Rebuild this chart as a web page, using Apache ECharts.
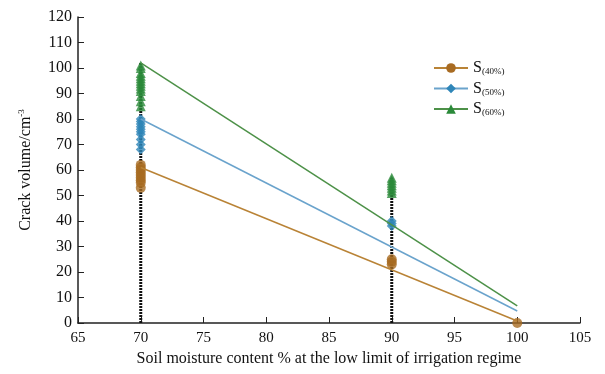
<!DOCTYPE html>
<html>
<head>
<meta charset="utf-8">
<script src="https://cdn.jsdelivr.net/npm/echarts@6/dist/echarts.min.js"></script>
<style>
  html, body { margin: 0; padding: 0; background: #fff; }
  #chart { width: 605px; height: 374px; }
</style>
</head>
<body>
<div id="chart"></div>
<script>
// scatter readings at each irrigation limit
const xs40 = [70, 70, 70, 70, 70, 70, 70, 70, 70, 90, 90, 90, 100]
const ys40 = [53, 55, 56, 57, 58, 59, 60, 61, 62, 23, 24, 25, 0]
const xs50 = [70, 70, 70, 70, 70, 70, 70, 70, 70, 70, 90, 90, 90]
const ys50 = [68, 70, 72, 74, 75, 76, 77, 78, 79, 80, 38, 39, 40]
const xs60 = [70, 70, 70, 70, 70, 70, 70, 70, 70, 70, 70, 70, 70, 90, 90, 90, 90, 90, 90, 90]
const ys60 = [85, 87, 89, 91, 92, 93, 94, 95, 96, 97, 98, 100, 101, 51, 52, 53, 54, 55, 56, 57]

// fitted lines (start / end)
const fitX = [70, 100]
const fit40 = [61, 0.8]
const fit50 = [80, 4.7]
const fit60 = [102, 6.7]

// vertical range bars
const barX = [70, 90]
const barTop = [102, 57]

const names = ['40%', '50%', '60%']
const colors = ['#a86b22', '#2f86b8', '#2b8a3a']
const lineColors = ['#b98336', '#6aa3cc', '#4d9148']
const symbols = ['circle', 'diamond', 'triangle']

const zip = (a, b) => a.map((v, i) => [v, b[i]])
const pts = [zip(xs40, ys40), zip(xs50, ys50), zip(xs60, ys60)]
const fits = [fit40, fit50, fit60]

const font = 'Liberation Serif'
const series = []

barX.forEach((x, i) => {
  series.push({
    type: 'line',
    name: 'range' + i,
    data: [[x, 0], [x, barTop[i]]],
    symbol: 'none',
    silent: true,
    z: 1,
    lineStyle: { color: '#111', width: 3, type: [2, 1] }
  })
})

names.forEach((n, i) => {
  series.push({
    type: 'line',
    name: n,
    data: zip(fitX, fits[i]),
    symbol: symbols[i],
    symbolSize: 10,
    showSymbol: false,
    itemStyle: { color: colors[i] },
    lineStyle: { color: lineColors[i], width: 1.5 },
    z: 3
  })
  series.push({
    type: 'scatter',
    name: n,
    data: pts[i],
    symbol: symbols[i],
    symbolSize: 10,
    itemStyle: { color: colors[i] },
    z: 2
  })
})

const option = {
  animation: false,
  textStyle: { fontFamily: font },
  grid: { left: 78, right: 25, top: 17, bottom: 51 },
  legend: {
    data: names,
    orient: 'vertical',
    left: 428,
    top: 55,
    itemWidth: 34,
    itemHeight: 12,
    itemGap: 4,
    formatter: n => '{s|S}{sub|(' + n + ')}',
    textStyle: {
      rich: {
        s: { fontFamily: font, fontSize: 16, color: '#111' },
        sub: { fontFamily: font, fontSize: 9, color: '#111', padding: [8, 0, 0, 0] }
      }
    }
  },
  xAxis: {
    type: 'value',
    min: 65, max: 105, interval: 5,
    name: 'Soil moisture content % at the low limit of irrigation regime',
    nameLocation: 'middle',
    nameGap: 26,
    nameTextStyle: { fontFamily: font, fontSize: 16, color: '#111' },
    axisLine: { lineStyle: { color: '#222', width: 1.5 } },
    axisTick: { inside: true, length: 6, lineStyle: { color: '#222' } },
    axisLabel: { fontFamily: font, fontSize: 15, color: '#111', margin: 8 },
    splitLine: { show: false }
  },
  yAxis: {
    type: 'value',
    min: 0, max: 120, interval: 10,
    name: 'Crack volume/cm{sup|-3}',
    nameLocation: 'middle',
    nameGap: 44,
    nameTextStyle: {
      fontFamily: font, fontSize: 16, color: '#111',
      rich: { sup: { fontFamily: font, fontSize: 9, color: '#111', padding: [0, 0, 8, 0] } }
    },
    axisLine: { show: true, lineStyle: { color: '#222', width: 1.5 } },
    axisTick: { show: true, inside: true, length: 6, lineStyle: { color: '#222' } },
    axisLabel: { fontFamily: font, fontSize: 16, color: '#111', margin: 6 },
    splitLine: { show: false }
  },
  series: series
}

const myChart = echarts.init(document.getElementById('chart'))
myChart.setOption(option)
</script>
</body>
</html>
